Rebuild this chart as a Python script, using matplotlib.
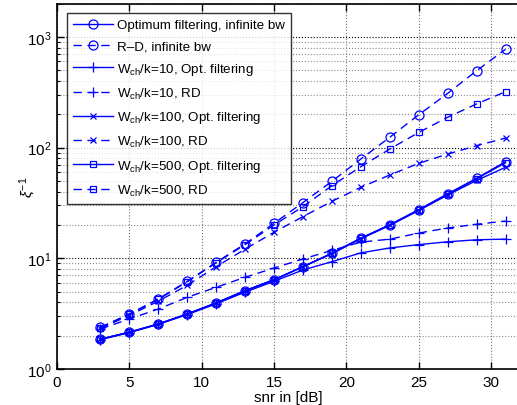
import matplotlib
matplotlib.use("Agg")
import matplotlib.pyplot as plt
from matplotlib.ticker import LogLocator, NullFormatter

plt.rcParams['font.family'] = ['Liberation Sans', 'DejaVu Sans']
plt.rcParams['mathtext.fontset'] = 'custom'
plt.rcParams['mathtext.rm'] = 'Liberation Sans'
plt.rcParams['mathtext.it'] = 'Liberation Sans:italic'

snr = [3, 5, 7, 9, 11, 13, 15, 17, 19, 21, 23, 25, 27, 29, 31]

opt_inf = [1.86, 2.15, 2.55, 3.14, 3.95, 5.1, 6.4, 8.4, 11.1, 15.2, 20.1, 27.5, 38.3, 52.8, 74.6]
rd_inf = [2.38, 3.14, 4.29, 6.2, 9.2, 13.5, 20.7, 31.9, 49.6, 78.9, 124, 198, 309, 495, 773]
opt_10 = [1.84, 2.13, 2.53, 3.1, 3.88, 4.95, 6.2, 7.84, 9.32, 11.2, 12.4, 13.3, 14.1, 14.7, 14.9]
rd_10 = [2.3, 2.83, 3.48, 4.44, 5.47, 6.74, 8.17, 9.86, 11.8, 14.0, 14.9, 16.9, 18.8, 20.3, 21.7]
opt_100 = [1.86, 2.15, 2.55, 3.14, 3.95, 5.1, 6.4, 8.4, 11.0, 15.0, 19.8, 27.0, 37.3, 50.5, 66.4]
rd_100 = [2.33, 3.05, 4.1, 5.7, 8.4, 12.1, 17.2, 23.8, 32.7, 43.8, 56.6, 72.1, 87.5, 104, 122]
opt_500 = [1.86, 2.15, 2.55, 3.14, 3.95, 5.1, 6.4, 8.4, 11.1, 15.2, 20.0, 27.4, 38.0, 52.3, 73.0]
rd_500 = [2.37, 3.12, 4.26, 6.15, 9.1, 13.3, 20.0, 29.3, 45.3, 67.2, 97.1, 137, 188, 248, 320]

labels = ['Optimum filtering, infinite bw', 'R\u2013D, infinite bw',
          r'W$_{\rm ch}$/k=10, Opt. filtering', r'W$_{\rm ch}$/k=10, RD',
          r'W$_{\rm ch}$/k=100, Opt. filtering', r'W$_{\rm ch}$/k=100, RD',
          r'W$_{\rm ch}$/k=500, Opt. filtering', r'W$_{\rm ch}$/k=500, RD']

fig = plt.figure(figsize=(5.17, 4.06), dpi=100)
ax = fig.add_axes([57 / 517, 36 / 406, 463 / 517, 365.4 / 406])

dash = (0, (6, 4))
series = [(opt_inf, '-', 'o', 6.5), (rd_inf, dash, 'o', 6.5),
          (opt_10, '-', '+', 7), (rd_10, dash, '+', 7),
          (opt_100, '-', 'x', 5), (rd_100, dash, 'x', 5),
          (opt_500, '-', 's', 5), (rd_500, dash, 's', 5)]
for (vals, ls, mk, ms), lab in zip(series, labels):
    ax.plot(snr, vals, color='#0000ff', linestyle=ls, linewidth=1.0,
            marker=mk, markersize=ms, markerfacecolor='none',
            markeredgecolor='#0000ff', markeredgewidth=0.9, label=lab)

ax.set_yscale('log')
ax.set_xlim(0, 32)
ax.set_ylim(1, 2000)
ax.set_xticks([0, 5, 10, 15, 20, 25, 30])
ax.yaxis.set_major_locator(LogLocator(base=10, numticks=10))
ax.yaxis.set_minor_locator(LogLocator(base=10, subs=range(2, 10), numticks=20))
ax.yaxis.set_minor_formatter(NullFormatter())

ax.grid(True, which='major', axis='x', linestyle=':', color='0.45', linewidth=0.8)
ax.grid(True, which='major', axis='y', linestyle=':', color='black', linewidth=0.8)
ax.grid(True, which='minor', axis='y', linestyle=':', color='0.55', linewidth=0.8)

ax.tick_params(which='both', direction='in', top=True, right=False, labelsize=11)
ax.tick_params(which='major', length=5, width=1, pad=4)
ax.tick_params(which='minor', length=2.5, width=0.8)
ax.spines['right'].set_visible(False)
for s in ['left', 'bottom', 'top']:
    ax.spines[s].set_linewidth(1.2)

ax.set_xlabel('snr in [dB]', fontsize=11, labelpad=1)
ax.set_ylabel(r'$\xi^{-1}$', fontsize=11)
ax.yaxis.set_label_coords(-19 / 463, 0.5)

leg = ax.legend(loc='upper left', bbox_to_anchor=(10 / 463, 356 / 365.4),
                borderaxespad=0, fontsize=9.6, handlelength=3.0,
                frameon=True, fancybox=False, edgecolor='black',
                labelspacing=0.65, borderpad=0.45, handletextpad=0.3)
leg.get_frame().set_linewidth(1.0)

fig.savefig('out.png', dpi=100)
